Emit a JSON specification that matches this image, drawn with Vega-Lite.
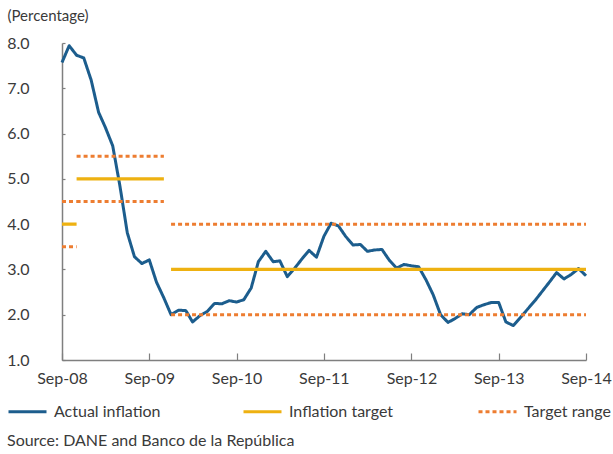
{
  "$schema": "https://vega.github.io/schema/vega-lite/v6.json",
  "width": 524,
  "height": 317,
  "autosize": {"type": "none"},
  "padding": {"left": 62, "top": 43, "right": 27, "bottom": 94},
  "background": "white",
  "config": {
    "font": "Lato",
    "view": {"stroke": null},
    "axis": {"labelFont": "Lato", "titleFont": "Lato", "labelColor": "#3a3a3a", "titleColor": "#3a3a3a", "grid": false, "domainColor": "#7f7f7f", "tickColor": "#7f7f7f", "domainWidth": 1.5, "tickWidth": 1.2},
    "legend": {"labelFont": "Lato", "labelColor": "#3a3a3a"},
    "title": {"font": "Lato", "color": "#3a3a3a"}
  },
  "title": {
    "text": "Source: DANE and Banco de la República",
    "orient": "bottom",
    "anchor": "start",
    "frame": "group",
    "dx": -55,
    "offset": 13,
    "fontSize": 16,
    "fontWeight": "normal"
  },
  "data": {"values": [
    {"series": "Actual inflation", "seg": "a", "date": "2008-09-01", "value": 7.57},
    {"series": "Actual inflation", "seg": "a", "date": "2008-10-01", "value": 7.94},
    {"series": "Actual inflation", "seg": "a", "date": "2008-11-01", "value": 7.73},
    {"series": "Actual inflation", "seg": "a", "date": "2008-12-01", "value": 7.67},
    {"series": "Actual inflation", "seg": "a", "date": "2009-01-01", "value": 7.18},
    {"series": "Actual inflation", "seg": "a", "date": "2009-02-01", "value": 6.47},
    {"series": "Actual inflation", "seg": "a", "date": "2009-03-01", "value": 6.14},
    {"series": "Actual inflation", "seg": "a", "date": "2009-04-01", "value": 5.73},
    {"series": "Actual inflation", "seg": "a", "date": "2009-05-01", "value": 4.85},
    {"series": "Actual inflation", "seg": "a", "date": "2009-06-01", "value": 3.81},
    {"series": "Actual inflation", "seg": "a", "date": "2009-07-01", "value": 3.28},
    {"series": "Actual inflation", "seg": "a", "date": "2009-08-01", "value": 3.13},
    {"series": "Actual inflation", "seg": "a", "date": "2009-09-01", "value": 3.21},
    {"series": "Actual inflation", "seg": "a", "date": "2009-10-01", "value": 2.72},
    {"series": "Actual inflation", "seg": "a", "date": "2009-11-01", "value": 2.37},
    {"series": "Actual inflation", "seg": "a", "date": "2009-12-01", "value": 2.00},
    {"series": "Actual inflation", "seg": "a", "date": "2010-01-01", "value": 2.10},
    {"series": "Actual inflation", "seg": "a", "date": "2010-02-01", "value": 2.09},
    {"series": "Actual inflation", "seg": "a", "date": "2010-03-01", "value": 1.84},
    {"series": "Actual inflation", "seg": "a", "date": "2010-04-01", "value": 1.98},
    {"series": "Actual inflation", "seg": "a", "date": "2010-05-01", "value": 2.07},
    {"series": "Actual inflation", "seg": "a", "date": "2010-06-01", "value": 2.25},
    {"series": "Actual inflation", "seg": "a", "date": "2010-07-01", "value": 2.24},
    {"series": "Actual inflation", "seg": "a", "date": "2010-08-01", "value": 2.31},
    {"series": "Actual inflation", "seg": "a", "date": "2010-09-01", "value": 2.28},
    {"series": "Actual inflation", "seg": "a", "date": "2010-10-01", "value": 2.33},
    {"series": "Actual inflation", "seg": "a", "date": "2010-11-01", "value": 2.59},
    {"series": "Actual inflation", "seg": "a", "date": "2010-12-01", "value": 3.17},
    {"series": "Actual inflation", "seg": "a", "date": "2011-01-01", "value": 3.40},
    {"series": "Actual inflation", "seg": "a", "date": "2011-02-01", "value": 3.17},
    {"series": "Actual inflation", "seg": "a", "date": "2011-03-01", "value": 3.19},
    {"series": "Actual inflation", "seg": "a", "date": "2011-04-01", "value": 2.84},
    {"series": "Actual inflation", "seg": "a", "date": "2011-05-01", "value": 3.02},
    {"series": "Actual inflation", "seg": "a", "date": "2011-06-01", "value": 3.23},
    {"series": "Actual inflation", "seg": "a", "date": "2011-07-01", "value": 3.42},
    {"series": "Actual inflation", "seg": "a", "date": "2011-08-01", "value": 3.27},
    {"series": "Actual inflation", "seg": "a", "date": "2011-09-01", "value": 3.73},
    {"series": "Actual inflation", "seg": "a", "date": "2011-10-01", "value": 4.02},
    {"series": "Actual inflation", "seg": "a", "date": "2011-11-01", "value": 3.96},
    {"series": "Actual inflation", "seg": "a", "date": "2011-12-01", "value": 3.73},
    {"series": "Actual inflation", "seg": "a", "date": "2012-01-01", "value": 3.54},
    {"series": "Actual inflation", "seg": "a", "date": "2012-02-01", "value": 3.55},
    {"series": "Actual inflation", "seg": "a", "date": "2012-03-01", "value": 3.40},
    {"series": "Actual inflation", "seg": "a", "date": "2012-04-01", "value": 3.43},
    {"series": "Actual inflation", "seg": "a", "date": "2012-05-01", "value": 3.44},
    {"series": "Actual inflation", "seg": "a", "date": "2012-06-01", "value": 3.20},
    {"series": "Actual inflation", "seg": "a", "date": "2012-07-01", "value": 3.03},
    {"series": "Actual inflation", "seg": "a", "date": "2012-08-01", "value": 3.11},
    {"series": "Actual inflation", "seg": "a", "date": "2012-09-01", "value": 3.08},
    {"series": "Actual inflation", "seg": "a", "date": "2012-10-01", "value": 3.06},
    {"series": "Actual inflation", "seg": "a", "date": "2012-11-01", "value": 2.77},
    {"series": "Actual inflation", "seg": "a", "date": "2012-12-01", "value": 2.44},
    {"series": "Actual inflation", "seg": "a", "date": "2013-01-01", "value": 2.00},
    {"series": "Actual inflation", "seg": "a", "date": "2013-02-01", "value": 1.83},
    {"series": "Actual inflation", "seg": "a", "date": "2013-03-01", "value": 1.91},
    {"series": "Actual inflation", "seg": "a", "date": "2013-04-01", "value": 2.02},
    {"series": "Actual inflation", "seg": "a", "date": "2013-05-01", "value": 2.00},
    {"series": "Actual inflation", "seg": "a", "date": "2013-06-01", "value": 2.16},
    {"series": "Actual inflation", "seg": "a", "date": "2013-07-01", "value": 2.22},
    {"series": "Actual inflation", "seg": "a", "date": "2013-08-01", "value": 2.27},
    {"series": "Actual inflation", "seg": "a", "date": "2013-09-01", "value": 2.27},
    {"series": "Actual inflation", "seg": "a", "date": "2013-10-01", "value": 1.84},
    {"series": "Actual inflation", "seg": "a", "date": "2013-11-01", "value": 1.76},
    {"series": "Actual inflation", "seg": "a", "date": "2013-12-01", "value": 1.94},
    {"series": "Actual inflation", "seg": "a", "date": "2014-01-01", "value": 2.13},
    {"series": "Actual inflation", "seg": "a", "date": "2014-02-01", "value": 2.32},
    {"series": "Actual inflation", "seg": "a", "date": "2014-03-01", "value": 2.51},
    {"series": "Actual inflation", "seg": "a", "date": "2014-04-01", "value": 2.72},
    {"series": "Actual inflation", "seg": "a", "date": "2014-05-01", "value": 2.93},
    {"series": "Actual inflation", "seg": "a", "date": "2014-06-01", "value": 2.79},
    {"series": "Actual inflation", "seg": "a", "date": "2014-07-01", "value": 2.89},
    {"series": "Actual inflation", "seg": "a", "date": "2014-08-01", "value": 3.02},
    {"series": "Actual inflation", "seg": "a", "date": "2014-09-01", "value": 2.86},
    {"series": "Inflation target", "seg": "t08", "date": "2008-09-01", "value": 4.0},
    {"series": "Inflation target", "seg": "t08", "date": "2008-11-01", "value": 4.0},
    {"series": "Inflation target", "seg": "t09", "date": "2008-11-01", "value": 5.0},
    {"series": "Inflation target", "seg": "t09", "date": "2009-11-01", "value": 5.0},
    {"series": "Inflation target", "seg": "t10", "date": "2009-12-01", "value": 3.0},
    {"series": "Inflation target", "seg": "t10", "date": "2014-09-01", "value": 3.0},
    {"series": "Target range", "seg": "r08lo", "date": "2008-09-01", "value": 3.5},
    {"series": "Target range", "seg": "r08lo", "date": "2008-11-01", "value": 3.5},
    {"series": "Target range", "seg": "r08hi", "date": "2008-09-01", "value": 4.5},
    {"series": "Target range", "seg": "r08hi", "date": "2008-11-01", "value": 4.5},
    {"series": "Target range", "seg": "r09lo", "date": "2008-11-01", "value": 4.5},
    {"series": "Target range", "seg": "r09lo", "date": "2009-11-01", "value": 4.5},
    {"series": "Target range", "seg": "r09hi", "date": "2008-11-01", "value": 5.5},
    {"series": "Target range", "seg": "r09hi", "date": "2009-11-01", "value": 5.5},
    {"series": "Target range", "seg": "r10lo", "date": "2009-12-01", "value": 2.0},
    {"series": "Target range", "seg": "r10lo", "date": "2014-09-01", "value": 2.0},
    {"series": "Target range", "seg": "r10hi", "date": "2009-12-01", "value": 4.0},
    {"series": "Target range", "seg": "r10hi", "date": "2014-09-01", "value": 4.0}
  ]},
  "encoding": {
    "x": {
      "field": "date", "type": "temporal",
      "scale": {"type": "utc", "domain": [{"year": 2008, "month": 9, "date": 1, "utc": true}, {"year": 2014, "month": 9, "date": 1, "utc": true}]},
      "axis": {
        "title": null,
        "labelExpr": "utcFormat(datum.value, '%b-%y')",
        "values": [
          {"year": 2008, "month": 9, "date": 1, "utc": true},
          {"year": 2009, "month": 9, "date": 1, "utc": true},
          {"year": 2010, "month": 9, "date": 1, "utc": true},
          {"year": 2011, "month": 9, "date": 1, "utc": true},
          {"year": 2012, "month": 9, "date": 1, "utc": true},
          {"year": 2013, "month": 9, "date": 1, "utc": true},
          {"year": 2014, "month": 9, "date": 1, "utc": true}
        ],
        "tickSize": -7,
        "labelPadding": 17,
        "labelFontSize": 16,
        "labelFlush": false,
        "labelOverlap": false
      }
    },
    "y": {
      "field": "value", "type": "quantitative",
      "scale": {"domain": [1, 8], "nice": false, "zero": false},
      "axis": {
        "values": [1, 2, 3, 4, 5, 6, 7, 8],
        "format": ".1f",
        "tickSize": -3,
        "labelPadding": 36,
        "labelFontSize": 16,
        "title": "(Percentage)",
        "titleAngle": 0,
        "titleAlign": "left",
        "titleBaseline": "middle",
        "titleX": -55,
        "titleY": -28,
        "titleFontSize": 15,
        "titleFontWeight": "normal"
      }
    },
    "color": {
      "field": "series", "type": "nominal",
      "scale": {"domain": ["Actual inflation", "Inflation target", "Target range"], "range": ["#1C5D8D", "#EEB111", "#ED7D31"]},
      "legend": {
        "title": null,
        "orient": "none",
        "legendX": -55,
        "legendY": 348,
        "direction": "horizontal",
        "columns": 3,
        "gridAlign": "all",
        "columnPadding": 76,
        "symbolType": "stroke",
        "symbolSize": 1444,
        "symbolStrokeWidth": 3,
        "labelFontSize": 16,
        "labelOffset": 6
      }
    },
    "strokeDash": {
      "field": "series", "type": "nominal",
      "scale": {"domain": ["Actual inflation", "Inflation target", "Target range"], "range": [[1, 0], [1, 0], [4, 3]]},
      "legend": {
        "title": null,
        "orient": "none",
        "legendX": -55,
        "legendY": 348,
        "direction": "horizontal",
        "columns": 3,
        "gridAlign": "all",
        "columnPadding": 76,
        "symbolType": "stroke",
        "symbolSize": 1444,
        "symbolStrokeWidth": 3,
        "labelFontSize": 16,
        "labelOffset": 6
      }
    },
    "detail": {"field": "seg", "type": "nominal"}
  },
  "layer": [
    {"transform": [{"filter": "datum.series === 'Actual inflation'"}], "mark": {"type": "line", "strokeWidth": 3, "strokeJoin": "round", "clip": false}},
    {"transform": [{"filter": "datum.series === 'Inflation target'"}], "mark": {"type": "line", "strokeWidth": 3.2, "strokeCap": "butt"}},
    {"transform": [{"filter": "datum.series === 'Target range'"}], "mark": {"type": "line", "strokeWidth": 3, "strokeCap": "butt"}}
  ]
}
